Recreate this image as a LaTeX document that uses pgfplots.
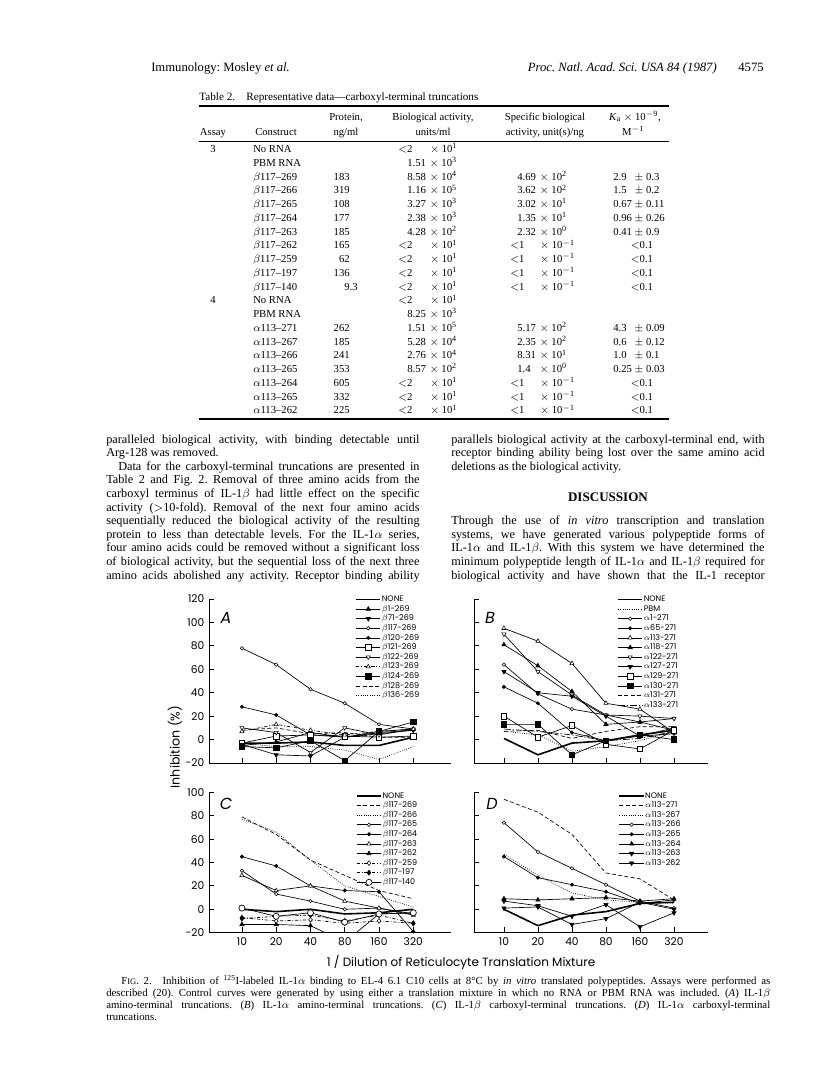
\documentclass[border=0pt]{standalone}
\usepackage{fontspec}
\setmainfont{Liberation Serif}
\newfontfamily\figfont{Poppins}
\usepackage{pgfplots}
\pgfplotsset{compat=1.18}
\frenchspacing

% line and mark styles
\tikzset{
  ln/.style={black, line width=0.5pt},
  none/.style={black, line width=1.2pt, mark=none},
  oc/.style={ln, mark=*, mark size=1.3pt, mark options={solid, fill=white, line width=0.4pt}},
  fc/.style={ln, mark=*, mark size=1.2pt, mark options={solid, fill=black}},
  ot/.style={ln, mark=triangle*, mark size=1.8pt, mark options={solid, fill=white, line width=0.4pt}},
  ft/.style={ln, mark=triangle*, mark size=1.8pt, mark options={solid, fill=black}},
  oti/.style={ln, mark=triangle*, mark size=1.8pt, mark options={solid, fill=white, rotate=180, line width=0.4pt}},
  fti/.style={ln, mark=triangle*, mark size=1.8pt, mark options={solid, fill=black, rotate=180}},
  osq/.style={ln, mark=square*, mark size=2.1pt, mark options={solid, fill=white, line width=0.5pt}},
  fsq/.style={ln, mark=square*, mark size=2.1pt, mark options={solid, fill=black}},
  ocl/.style={ln, mark=*, mark size=2.3pt, mark options={solid, fill=white, line width=0.5pt}},
  dsh/.style={ln, dash pattern=on 3pt off 1.8pt},
  dot/.style={ln, dash pattern=on 0.6pt off 1.1pt},
  dd/.style={ln, dash pattern=on 2.5pt off 1.3pt on 0.6pt off 1.3pt},
  ddl/.style={ln, dash pattern=on 5pt off 1.5pt on 1pt off 1.5pt},
  t/.style={anchor=base west, inner sep=0pt},
  tc/.style={anchor=base, inner sep=0pt},
  tr/.style={anchor=base east, inner sep=0pt},
}

\pgfplotsset{panel/.style={
  scale only axis, anchor=south west,
  axis lines*=left, axis line style={line width=0.7pt},
  xtick={0,...,5},
  tick style={black, line width=0.6pt}, major tick length=4pt, tick align=inside,
  tick label style={font=\figfont\fontsize{8}{9}\selectfont},
  legend style={draw=none, fill=none, anchor=north west,
    font=\figfont\fontsize{6}{7}\selectfont, row sep=0.3pt,
    nodes={inner sep=0.5pt, text height=4.6pt, text depth=1.3pt}},
  legend cell align=left,
  legend image code/.code={\draw[mark repeat=2, mark phase=2, ##1]
    plot coordinates {(0cm,0cm) (0.32cm,0cm) (0.64cm,0cm)};},
}}

\newlength\colw
\setlength\colw{235pt}
\newcommand\jl[3]{\node[t] at (#1,#2) {\hbox to \colw{#3}};}
% table row helpers
\newcommand\R[4]{\pgfmathsetmacro\yb{152.5+13.76*#1}%
  \node[tc] at (213,\yb) {#2};
  \node[t] at (253,\yb) {#3};
  \node[tr] at (350,\yb) {#4};}
\newcommand\bio[2]{\node[t] at (407,\yb) {\makebox[15pt][l]{#1} $\times$ 10\textsuperscript{#2}};}
\newcommand\biolt{\node[t] at (398,\yb) {$<$2}; \node[t] at (430,\yb) {$\times$ 10\textsuperscript{1}};}
\newcommand\spc[2]{\node[t] at (517,\yb) {\makebox[15pt][l]{#1} $\times$ 10\textsuperscript{#2}};}
\newcommand\spclt{\node[t] at (510,\yb) {$<$1}; \node[t] at (540,\yb) {$\times$ 10\textsuperscript{$-$1}};}
\newcommand\ka[2]{\node[t] at (613,\yb) {\makebox[16pt][l]{#1}$\pm$ #2};}
\newcommand\kalt{\node[tc] at (642,\yb) {$<$0.1};}
\newcommand\lt{\biolt\spclt\kalt}

\begin{document}
\begin{tikzpicture}
\fill[white] (0,0) rectangle (612pt,-801pt);
\useasboundingbox (0,0) rectangle (612pt,-801pt);

\begin{scope}[x=0.75pt, y=-0.75pt]
% running head
\begin{scope}[font=\fontsize{9.5}{11}\selectfont]
\node[t] at (151,71) {Immunology: Mosley \textit{et al.}};
\node[tr] at (717,71) {\textit{Proc. Natl. Acad. Sci. USA 84 (1987)}};
\node[tr] at (764,71) {4575};
\end{scope}

% Table 2
\begin{scope}[font=\fontsize{8}{9.5}\selectfont]
\node[t, font=\fontsize{8.4}{10}\selectfont] at (199,100.5) {Table 2.\quad Representative data---carboxyl-terminal truncations};
\draw[line width=1.3pt] (199,106) -- (669,106);
\draw[line width=0.6pt] (199,141) -- (669,141);
\draw[line width=0.9pt] (199,419) -- (669,419);
\node[tc] at (346,120) {Protein,};
\node[tc] at (346,135) {ng/ml};
\node[tc] at (433,120) {Biological activity,};
\node[tc] at (433,135) {units/ml};
\node[tc] at (545,120) {Specific biological};
\node[tc] at (545,135) {activity, unit(s)/ng};
\node[tc] at (635,120) {\textit{K}\textsubscript{a} $\times$ 10\textsuperscript{$-$9},};
\node[tc] at (633,135) {M\textsuperscript{$-$1}};
\node[tc] at (213,135) {Assay};
\node[t] at (255,135) {Construct};
\R{0}{3}{No RNA}{}\biolt
\R{1}{}{PBM RNA}{}\bio{1.51}{3}
\R{2}{}{$\beta$117--269}{183}\bio{8.58}{4}\spc{4.69}{2}\ka{2.9}{0.3}
\R{3}{}{$\beta$117--266}{319}\bio{1.16}{5}\spc{3.62}{2}\ka{1.5}{0.2}
\R{4}{}{$\beta$117--265}{108}\bio{3.27}{3}\spc{3.02}{1}\ka{0.67}{0.11}
\R{5}{}{$\beta$117--264}{177}\bio{2.38}{3}\spc{1.35}{1}\ka{0.96}{0.26}
\R{6}{}{$\beta$117--263}{185}\bio{4.28}{2}\spc{2.32}{0}\ka{0.41}{0.9}
\R{7}{}{$\beta$117--262}{165}\lt
\R{8}{}{$\beta$117--259}{62}\lt
\R{9}{}{$\beta$117--197}{136}\lt
\R{10}{}{$\beta$117--140}{9\rlap{.3}}\lt
\R{11}{4}{No RNA}{}\biolt
\R{12}{}{PBM RNA}{}\bio{8.25}{3}
\R{13}{}{$\alpha$113--271}{262}\bio{1.51}{5}\spc{5.17}{2}\ka{4.3}{0.09}
\R{14}{}{$\alpha$113--267}{185}\bio{5.28}{4}\spc{2.35}{2}\ka{0.6}{0.12}
\R{15}{}{$\alpha$113--266}{241}\bio{2.76}{4}\spc{8.31}{1}\ka{1.0}{0.1}
\R{16}{}{$\alpha$113--265}{353}\bio{8.57}{2}\spc{1.4}{0}\ka{0.25}{0.03}
\R{17}{}{$\alpha$113--264}{605}\lt
\R{18}{}{$\alpha$113--265}{332}\lt
\R{19}{}{$\alpha$113--262}{225}\lt
\end{scope}

% body text, two columns
\begin{scope}[font=\fontsize{9.2}{10}\selectfont]
\jl{106}{443}{paralleled biological activity, with binding detectable until}
\node[t] at (106,456.6) {Arg-128 was removed.};
\jl{106}{470.2}{\hspace{9pt}Data for the carboxyl-terminal truncations are presented in}
\jl{106}{483.8}{Table 2 and Fig. 2. Removal of three amino acids from the}
\jl{106}{497.4}{carboxyl terminus of IL-1$\beta$ had little effect on the specific}
\jl{106}{511}{activity ($>$10-fold). Removal of the next four amino acids}
\jl{106}{524.6}{sequentially reduced the biological activity of the resulting}
\jl{106}{538.2}{protein to less than detectable levels. For the IL-1$\alpha$ series,}
\jl{106}{551.8}{four amino acids could be removed without a significant loss}
\jl{106}{565.4}{of biological activity, but the sequential loss of the next three}
\jl{106}{579}{amino acids abolished any activity. Receptor binding ability}
\jl{451}{443}{parallels biological activity at the carboxyl-terminal end, with}
\jl{451}{456.6}{receptor binding ability being lost over the same amino acid}
\node[t] at (451,470.2) {deletions as the biological activity.};
\node[tc, font=\fontsize{9.8}{11}\bfseries] at (608,501.5) {DISCUSSION};
\jl{451}{524.6}{Through the use of \textit{in vitro} transcription and translation}
\jl{451}{538.2}{systems, we have generated various polypeptide forms of}
\jl{451}{551.8}{IL-1$\alpha$ and IL-1$\beta$. With this system we have determined the}
\jl{451}{565.4}{minimum polypeptide length of IL-1$\alpha$ and IL-1$\beta$ required for}
\jl{451}{579}{biological activity and have shown that the IL-1 receptor}
\end{scope}

% figure labels
\node[font=\figfont\fontsize{9}{10}\selectfont] at (461,962) {1 / Dilution of Reticulocyte Translation Mixture};
\node[rotate=90, font=\figfont\fontsize{9.5}{10}\selectfont] at (175,747) {Inhibition (\%)};
\begin{scope}[font=\figfont\itshape\fontsize{12}{13}\selectfont]
\node at (226,618) {A};
\node at (490,618) {B};
\node at (226,804) {C};
\node at (492,804) {D};
\end{scope}

% caption
\begin{scope}[font=\fontsize{8.1}{9}\selectfont]
\node[t] at (121,984.5) {\hbox to 486.75pt{F{\fontsize{6.4}{7}\selectfont IG}. 2.\quad Inhibition of \textsuperscript{125}I-labeled IL-1$\alpha$ binding to EL-4 6.1 C10 cells at 8°C by \textit{in vitro} translated polypeptides. Assays were performed as}};
\node[t] at (106,996) {\hbox to 498pt{described (20). Control curves were generated by using either a translation mixture in which no RNA or PBM RNA was included. (\textit{A}) IL-1$\beta$}};
\node[t] at (106,1008) {\hbox to 498pt{amino-terminal truncations. (\textit{B}) IL-1$\alpha$ amino-terminal truncations. (\textit{C}) IL-1$\beta$ carboxyl-terminal truncations. (\textit{D}) IL-1$\alpha$ carboxyl-terminal}};
\node[t] at (106,1020) {truncations.};
\end{scope}
\end{scope}

% (A) IL-1beta amino-terminal truncations
\begin{axis}[panel, at={(156.75pt,-572.25pt)}, width=181.5pt, height=123pt,
  xmin=-0.96, xmax=6.1, ymin=-20, ymax=120,
  ytick={-20,0,20,40,60,80,100,120}, yticklabels={-20,0,20,40,60,80,100,120},
  xticklabels={}, legend style={at={(0.587,1.043)}}]
\addplot[none] coordinates {(0,-3) (1,-3) (2,-2) (3,-5) (4,-5) (5,2)};
\addplot[ft] coordinates {(0,-5) (1,-2) (2,6) (3,2) (4,7) (5,9)};
\addplot[fti] coordinates {(0,-4) (1,-13) (2,-14) (3,2) (4,5) (5,8)};
\addplot[oc] coordinates {(0,78) (1,64) (2,43) (3,31) (4,13) (5,9)};
\addplot[fc] coordinates {(0,28) (1,21) (2,4) (3,2) (4,6) (5,8)};
\addplot[osq] coordinates {(0,-3) (1,3) (2,4) (3,3) (4,2) (5,3)};
\addplot[oti] coordinates {(0,10) (1,6) (2,-11) (3,10) (4,4) (5,9)};
\addplot[dd, mark=triangle*, mark size=1.8pt, mark options={solid, fill=white, line width=0.4pt}] coordinates {(0,7) (1,13) (2,8) (3,4) (4,7) (5,9)};
\addplot[fsq] coordinates {(0,-6) (1,-7) (2,-1) (3,-18) (4,7) (5,15)};
\addplot[dsh] coordinates {(0,8) (1,10) (2,5) (3,6) (4,2) (5,2)};
\addplot[dot] coordinates {(0,-3) (1,-6) (2,-6) (3,-9) (4,-17) (5,-6)};
\legend{NONE, $\beta$1-269, $\beta$71-269, $\beta$117-269, $\beta$120-269, $\beta$121-269, $\beta$122-269, $\beta$123-269, $\beta$124-269, $\beta$128-269, $\beta$136-269}
\end{axis}

% (B) IL-1alpha amino-terminal truncations
\begin{axis}[panel, at={(355.5pt,-572.25pt)}, width=175.5pt, height=123pt,
  xmin=-0.88, xmax=6.0, ymin=-20, ymax=120,
  ytick={-20,0,20,40,60,80,100,120}, yticklabels={},
  xticklabels={}, legend style={at={(0.594,1.043)}}]
\addplot[none] coordinates {(0,1) (1,-13) (2,-3) (3,-1) (4,4) (5,8)};
\addplot[dot] coordinates {(0,7) (1,4) (2,-10) (3,-6) (4,-1) (5,7)};
\addplot[oc] coordinates {(0,64) (1,39) (2,26) (3,21) (4,15) (5,18)};
\addplot[fc] coordinates {(0,45) (1,31) (2,6) (3,-1) (4,3) (5,5)};
\addplot[ot] coordinates {(0,95) (1,84) (2,65) (3,31) (4,26) (5,6)};
\addplot[ft] coordinates {(0,81) (1,63) (2,41) (3,13) (4,15) (5,8)};
\addplot[oti] coordinates {(0,90) (1,58) (2,38) (3,21) (4,20) (5,18)};
\addplot[fti] coordinates {(0,58) (1,40) (2,37) (3,20) (4,3) (5,10)};
\addplot[osq] coordinates {(0,20) (1,2) (2,12) (3,-4) (4,-8) (5,8)};
\addplot[fsq] coordinates {(0,13) (1,13) (2,-13) (3,-1) (4,4) (5,0)};
\addplot[dsh] coordinates {(0,7) (1,8) (2,1) (3,7) (4,11) (5,11)};
\addplot[ddl] coordinates {(0,9) (1,7) (2,4) (3,-1) (4,1) (5,7)};
\legend{NONE, PBM, $\alpha$1-271, $\alpha$65-271, $\alpha$113-271, $\alpha$118-271, $\alpha$122-271, $\alpha$127-271, $\alpha$129-271, $\alpha$130-271, $\alpha$131-271, $\alpha$133-271}
\end{axis}

% (C) IL-1beta carboxyl-terminal truncations
\begin{axis}[panel, at={(156.75pt,-699.5pt)}, width=181.5pt, height=105.3pt,
  xmin=-0.96, xmax=6.1, ymin=-20, ymax=100,
  ytick={-20,0,20,40,60,80,100}, yticklabels={-20,0,20,40,60,80,100},
  xticklabels={10,20,40,80,160,320}, legend style={at={(0.59,1.028)}}]
\addplot[none] coordinates {(0,0) (1,-2) (2,0) (3,-4) (4,-3) (5,0)};
\addplot[dsh] coordinates {(0,79) (1,64) (2,42) (3,29) (4,16) (5,9)};
\addplot[dot] coordinates {(0,77) (1,66) (2,42) (3,20) (4,11) (5,2)};
\addplot[oc] coordinates {(0,33) (1,13) (2,7) (3,0) (4,1) (5,-4)};
\addplot[fc] coordinates {(0,45) (1,37) (2,20) (3,16) (4,15) (5,-19)};
\addplot[ot] coordinates {(0,29) (1,16) (2,20) (3,7) (4,1) (5,-5)};
\addplot[ft] coordinates {(0,-13) (1,-13) (2,-14) (3,-28) (4,-4) (5,-3)};
\addplot[dd, mark=diamond*, mark size=1.8pt, mark options={solid, fill=white, line width=0.4pt}] coordinates {(0,-7) (1,-10) (2,-9) (3,-12) (4,-10) (5,-12)};
\addplot[dd, mark=diamond*, mark size=1.8pt, mark options={solid, fill=black}] coordinates {(0,-8) (1,-6) (2,-5) (3,-10) (4,-5) (5,-12)};
\addplot[ocl] coordinates {(0,1) (1,-6) (2,-3) (3,-11) (4,-4) (5,-3)};
\legend{NONE, $\beta$117-269, $\beta$117-266, $\beta$117-265, $\beta$117-264, $\beta$117-263, $\beta$117-262, $\beta$117-259, $\beta$117-197, $\beta$117-140}
\end{axis}

% (D) IL-1alpha carboxyl-terminal truncations
\begin{axis}[panel, at={(355.5pt,-699.5pt)}, width=175.5pt, height=105.3pt,
  xmin=-0.88, xmax=6.0, ymin=-20, ymax=100,
  ytick={-20,0,20,40,60,80,100}, yticklabels={},
  xticklabels={10,20,40,80,160,320}, legend style={at={(0.60,1.028)}}]
\addplot[none] coordinates {(0,0) (1,-14) (2,-5) (3,-2) (4,5) (5,6)};
\addplot[dsh] coordinates {(0,94) (1,83) (2,64) (3,31) (4,26) (5,8)};
\addplot[dot] coordinates {(0,47) (1,29) (2,14) (3,8) (4,6) (5,5)};
\addplot[oc] coordinates {(0,74) (1,49) (2,35) (3,21) (4,7) (5,1)};
\addplot[fc] coordinates {(0,45) (1,27) (2,21) (3,15) (4,5) (5,8)};
\addplot[ft] coordinates {(0,9) (1,8) (2,9) (3,10) (4,7) (5,9)};
\addplot[fti] coordinates {(0,1) (1,2) (2,-13) (3,-8) (4,6) (5,0)};
\addplot[fti] coordinates {(0,7) (1,3) (2,-6) (3,4) (4,-15) (5,-3)};
\legend{NONE, $\alpha$113-271, $\alpha$113-267, $\alpha$113-266, $\alpha$113-265, $\alpha$113-264, $\alpha$113-263, $\alpha$113-262}
\end{axis}
\end{tikzpicture}
\end{document}
